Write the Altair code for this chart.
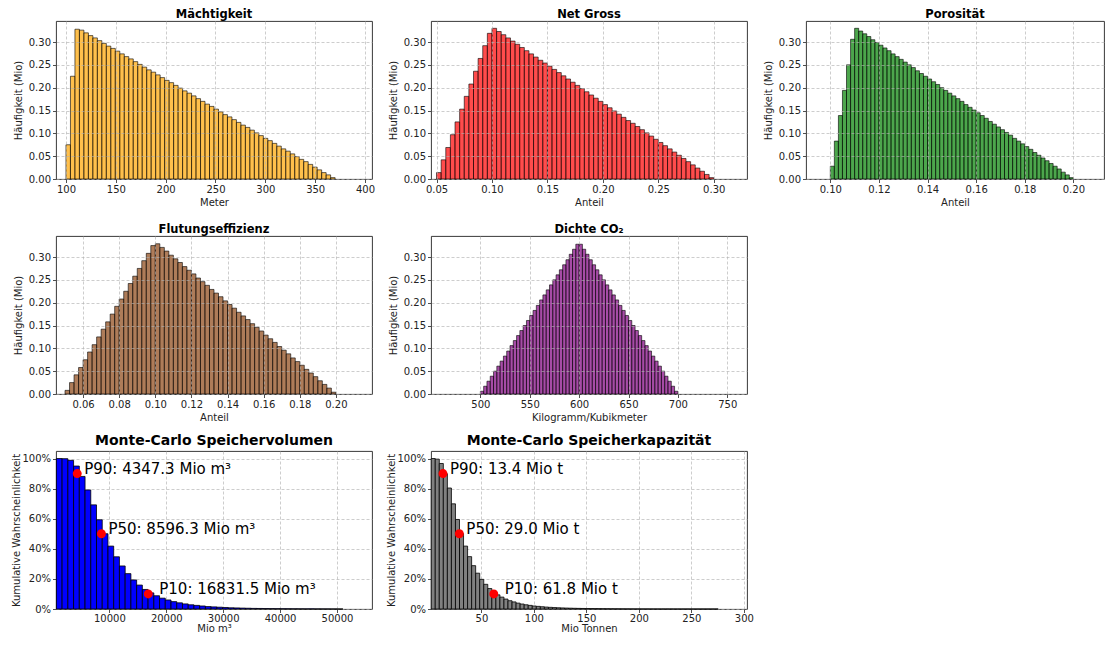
import altair as alt
import pandas as pd

FONT = "DejaVu Sans"

# ---------------- Histogramme (Häufigkeit in Mio, 60 Klassen) ----------------
maechtigkeit_start, maechtigkeit_step = 100.0, 4.5
maechtigkeit_counts = [
    0.075, 0.225, 0.328, 0.326, 0.320, 0.314, 0.309, 0.303, 0.297, 0.291,
    0.286, 0.280, 0.274, 0.268, 0.263, 0.257, 0.251, 0.245, 0.239, 0.234,
    0.228, 0.222, 0.216, 0.211, 0.205, 0.199, 0.193, 0.188, 0.182, 0.176,
    0.170, 0.164, 0.159, 0.153, 0.147, 0.141, 0.136, 0.130, 0.124, 0.118,
    0.113, 0.107, 0.101, 0.095, 0.089, 0.084, 0.078, 0.072, 0.066, 0.061,
    0.055, 0.049, 0.043, 0.038, 0.032, 0.026, 0.020, 0.014, 0.009, 0.003,
]

netgross_start, netgross_step = 0.05, 0.0041667
netgross_counts = [
    0.014, 0.042, 0.069, 0.097, 0.125, 0.153, 0.181, 0.208, 0.236, 0.264,
    0.292, 0.319, 0.330, 0.323, 0.316, 0.309, 0.302, 0.295, 0.288, 0.281,
    0.274, 0.267, 0.260, 0.254, 0.247, 0.240, 0.233, 0.226, 0.219, 0.212,
    0.205, 0.198, 0.191, 0.184, 0.177, 0.170, 0.163, 0.156, 0.149, 0.142,
    0.135, 0.128, 0.122, 0.115, 0.108, 0.101, 0.094, 0.087, 0.080, 0.073,
    0.066, 0.059, 0.052, 0.045, 0.038, 0.031, 0.024, 0.017, 0.010, 0.003,
]

porositaet_start, porositaet_step = 0.10, 0.0016667
porositaet_counts = [
    0.028, 0.083, 0.139, 0.194, 0.250, 0.306, 0.330, 0.324, 0.318, 0.312,
    0.305, 0.299, 0.293, 0.287, 0.281, 0.274, 0.268, 0.262, 0.256, 0.250,
    0.244, 0.237, 0.231, 0.225, 0.219, 0.213, 0.207, 0.200, 0.194, 0.188,
    0.182, 0.176, 0.170, 0.163, 0.157, 0.151, 0.145, 0.139, 0.133, 0.126,
    0.120, 0.114, 0.108, 0.102, 0.096, 0.089, 0.083, 0.077, 0.071, 0.065,
    0.058, 0.052, 0.046, 0.040, 0.034, 0.028, 0.022, 0.015, 0.009, 0.003,
]

flutung_start, flutung_step = 0.05, 0.0025
flutung_counts = [
    0.008, 0.025, 0.042, 0.058, 0.075, 0.092, 0.108, 0.125, 0.142, 0.158,
    0.175, 0.192, 0.208, 0.225, 0.242, 0.258, 0.275, 0.292, 0.308, 0.325,
    0.329, 0.321, 0.313, 0.304, 0.296, 0.288, 0.279, 0.271, 0.263, 0.254,
    0.246, 0.238, 0.229, 0.221, 0.213, 0.204, 0.196, 0.188, 0.179, 0.171,
    0.163, 0.154, 0.146, 0.138, 0.129, 0.121, 0.113, 0.104, 0.096, 0.088,
    0.079, 0.071, 0.063, 0.054, 0.046, 0.038, 0.029, 0.021, 0.013, 0.004,
]

dichte_start, dichte_step = 500.0, 3.3333
dichte_counts = [
    0.006, 0.017, 0.028, 0.039, 0.050, 0.061, 0.072, 0.083, 0.094, 0.106,
    0.117, 0.128, 0.139, 0.150, 0.161, 0.172, 0.183, 0.194, 0.206, 0.217,
    0.228, 0.239, 0.250, 0.261, 0.272, 0.283, 0.294, 0.306, 0.317, 0.328,
    0.328, 0.317, 0.306, 0.294, 0.283, 0.272, 0.261, 0.250, 0.239, 0.228,
    0.217, 0.206, 0.194, 0.183, 0.172, 0.161, 0.150, 0.139, 0.128, 0.117,
    0.106, 0.094, 0.083, 0.072, 0.061, 0.050, 0.039, 0.028, 0.017, 0.006,
]

# ---------------- Monte-Carlo (kumulative Überschreitungswahrscheinlichkeit) ----------------
volumen_start, volumen_step = 685.0, 1007.3
volumen_cum = [
    1.000, 0.999, 0.988, 0.950, 0.881, 0.791, 0.692, 0.593, 0.500, 0.418,
    0.347, 0.286, 0.235, 0.193, 0.159, 0.130, 0.107, 0.088, 0.072, 0.060,
    0.049, 0.041, 0.034, 0.028, 0.024, 0.020, 0.016, 0.014, 0.012, 0.010,
    0.008, 0.007, 0.006, 0.005, 0.004, 0.0036, 0.0031, 0.0026, 0.0022, 0.0019,
    0.0017, 0.0014, 0.0012, 0.0010, 0.0009, 0.0007, 0.0006, 0.0005, 0.0003, 0.0001,
]
volumen_p_x = [4347.3, 8596.3, 16831.5]
volumen_p_y = [0.9, 0.5, 0.1]
volumen_p_label = ["P90: 4347.3 Mio m³", "P50: 8596.3 Mio m³", "P10: 16831.5 Mio m³"]

kapazitaet_start, kapazitaet_step = 2.2, 3.85
kapazitaet_cum = [
    1.000, 0.996, 0.967, 0.899, 0.804, 0.699, 0.595, 0.501, 0.418, 0.348,
    0.288, 0.238, 0.197, 0.164, 0.136, 0.113, 0.094, 0.079, 0.066, 0.055,
    0.047, 0.039, 0.033, 0.028, 0.024, 0.020, 0.0175, 0.015, 0.0128, 0.0111,
    0.0095, 0.0082, 0.0071, 0.0062, 0.0054, 0.0047, 0.0041, 0.0036, 0.0031, 0.0027,
    0.0024, 0.0021, 0.0018, 0.0016, 0.0014, 0.0012, 0.0011, 0.0009, 0.0008, 0.0007,
    0.0006, 0.00055, 0.0005, 0.00045, 0.0004, 0.00035, 0.0003, 0.00027, 0.00024, 0.00021,
    0.00018, 0.00016, 0.00014, 0.00012, 0.0001, 0.00008, 0.00006, 0.00005, 0.00004, 0.00002,
    0.00001,
]
kapazitaet_p_x = [13.4, 29.0, 61.8]
kapazitaet_p_y = [0.9, 0.5, 0.1]
kapazitaet_p_label = ["P90: 13.4 Mio t", "P50: 29.0 Mio t", "P10: 61.8 Mio t"]

# ---------------- Achsen-Ticks ----------------
hist_y_ticks = [0.0, 0.05, 0.10, 0.15, 0.20, 0.25, 0.30]
cum_y_ticks = [0.0, 0.2, 0.4, 0.6, 0.8, 1.0]
maechtigkeit_ticks = [100, 150, 200, 250, 300, 350, 400]
netgross_ticks = [0.05, 0.10, 0.15, 0.20, 0.25, 0.30]
porositaet_ticks = [0.10, 0.12, 0.14, 0.16, 0.18, 0.20]
flutung_ticks = [0.06, 0.08, 0.10, 0.12, 0.14, 0.16, 0.18, 0.20]
dichte_ticks = [500, 550, 600, 650, 700, 750]
volumen_ticks = [10000, 20000, 30000, 40000, 50000]
kapazitaet_ticks = [50, 100, 150, 200, 250, 300]

W, H = 316, 158
W3 = 298


def bins_frame(start, step, values):
    return pd.DataFrame({
        "x0": [start + i * step for i in range(len(values))],
        "x1": [start + (i + 1) * step for i in range(len(values))],
        "y": values,
    })


def hist_panel(title, start, step, counts, color, xdomain, xticks, xfmt, xtitle, width=W):
    df = bins_frame(start, step, counts)
    return alt.Chart(df).mark_rect(
        color=color, fillOpacity=0.7, stroke="black", strokeWidth=0.8, strokeOpacity=0.75
    ).encode(
        x=alt.X("x0:Q", scale=alt.Scale(domain=xdomain, nice=False, zero=False),
                axis=alt.Axis(values=xticks, format=xfmt, title=xtitle, zindex=1,
                              labelOverlap=False)),
        x2="x1:Q",
        y=alt.Y("y:Q", scale=alt.Scale(domain=[0, 0.346], nice=False),
                axis=alt.Axis(values=hist_y_ticks, format=".2f", title="Häufigkeit (Mio)",
                              zindex=1, labelOverlap=False)),
        y2=alt.datum(0),
    ).properties(width=width, height=H,
                 title=alt.TitleParams(title, fontSize=11.5, offset=1))


def cum_panel(title, start, step, cum, color, xdomain, xticks, xtitle, px, py, plabel):
    df = bins_frame(start, step, cum)
    xscale = alt.Scale(domain=xdomain, nice=False, zero=False)
    yscale = alt.Scale(domain=[0, 1.05], nice=False)
    xaxis = alt.Axis(values=xticks, format="d", title=xtitle, labelOverlap=False,
                     labelPadding=1, titlePadding=0)
    yaxis = alt.Axis(values=cum_y_ticks, format=".0%", title="Kumulative Wahrscheinlichkeit",
                     labelOverlap=False, titlePadding=0)
    bars = alt.Chart(df).mark_rect(
        color=color, fillOpacity=1, stroke="black", strokeWidth=0.8
    ).encode(
        x=alt.X("x0:Q", scale=xscale, axis=xaxis),
        x2="x1:Q",
        y=alt.Y("y:Q", scale=yscale, axis=yaxis),
        y2=alt.datum(0),
    )
    pdf = pd.DataFrame({"x0": px, "y": py, "label": plabel})
    dots = alt.Chart(pdf).mark_circle(color="red", size=80, opacity=1).encode(
        x=alt.X("x0:Q", scale=xscale, axis=xaxis),
        y=alt.Y("y:Q", scale=yscale, axis=yaxis))
    enc = dict(
        x=alt.X("x0:Q", scale=xscale, axis=xaxis),
        y=alt.Y("y:Q", scale=yscale, axis=yaxis),
        text="label:N",
    )
    texts_hi = alt.Chart(pdf).transform_filter("datum.y > 0.2").mark_text(
        align="left", baseline="alphabetic", dx=7, fontSize=15, font=FONT, color="black"
    ).encode(**enc)
    texts_lo = alt.Chart(pdf).transform_filter("datum.y <= 0.2").mark_text(
        align="left", baseline="alphabetic", dx=11, fontSize=15, font=FONT, color="black"
    ).encode(**enc)
    return alt.layer(bars, dots, texts_hi, texts_lo).properties(
        width=W, height=H, title=alt.TitleParams(title, fontSize=14, offset=3))


p1 = hist_panel("Mächtigkeit", maechtigkeit_start, maechtigkeit_step, maechtigkeit_counts,
                "orange", [90, 407], maechtigkeit_ticks, "d", "Meter")
p2 = hist_panel("Net Gross", netgross_start, netgross_step, netgross_counts,
                "red", [0.045, 0.33], netgross_ticks, ".2f", "Anteil")
p3 = hist_panel("Porosität", porositaet_start, porositaet_step, porositaet_counts,
                "green", [0.09, 0.2126], porositaet_ticks, ".2f", "Anteil", width=W3)
p4 = hist_panel("Flutungseffizienz", flutung_start, flutung_step, flutung_counts,
                "saddlebrown", [0.045, 0.22], flutung_ticks, ".2f", "Anteil")
p5 = hist_panel("Dichte CO₂", dichte_start, dichte_step, dichte_counts,
                "purple", [450, 770], dichte_ticks, "d", "Kilogramm/Kubikmeter")

blank = alt.Chart(pd.DataFrame({"a": [0]})).mark_point(opacity=0).encode(
    x=alt.X("a:Q", axis=None), y=alt.Y("a:Q", axis=None)
).properties(width=W3, height=H, view=alt.ViewBackground(stroke="transparent"))

p6 = cum_panel("Monte-Carlo Speichervolumen", volumen_start, volumen_step, volumen_cum,
               "blue", [616, 56158], volumen_ticks, "Mio m³",
               volumen_p_x, volumen_p_y, volumen_p_label)
p7 = cum_panel("Monte-Carlo Speicherkapazität", kapazitaet_start, kapazitaet_step, kapazitaet_cum,
               "gray", [2.0, 303], kapazitaet_ticks, "Mio Tonnen",
               kapazitaet_p_x, kapazitaet_p_y, kapazitaet_p_label)

chart = alt.concat(
    p1, p2, p3, p4, p5, blank, p6, p7,
    columns=3, spacing={"row": 57, "column": 59}, bounds="flush", align="each",
).properties(
    padding={"left": 3, "top": 0, "right": 0, "bottom": 0}
).configure_axis(
    labelFont=FONT, titleFont=FONT, labelFontSize=10, titleFontSize=10,
    titleFontWeight="normal", labelColor="#222", titleColor="#222",
    tickColor="#222", tickSize=3.5, tickWidth=0.8, domain=False,
    grid=True, gridColor="#b0b0b0", gridDash=[3, 2], gridWidth=0.8, gridOpacity=0.8,
    labelPadding=2, labelFlush=False, labelOverlap=False,
).configure_axisY(titlePadding=5).configure_axisX(titlePadding=3).configure_view(
    stroke="#222", strokeWidth=0.9
).configure_title(font=FONT, fontWeight="bold", color="black", anchor="middle")

chart.save("out.html", embed_options={"renderer": "svg", "actions": False})
